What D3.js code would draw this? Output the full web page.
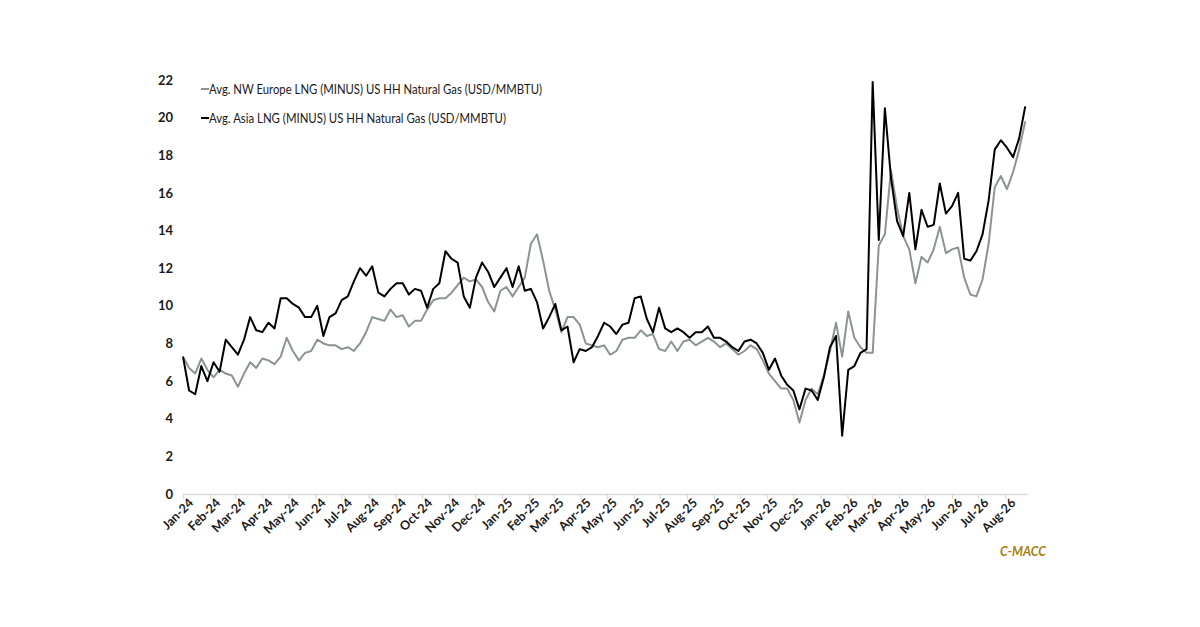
<!DOCTYPE html>
<html>
<head>
<meta charset="utf-8">
<script src="https://cdn.jsdelivr.net/npm/d3@7"></script>
<style>
    body { margin: 0; background: #fff; }
</style>
</head>
<body>
<script>
// weekly readings, first week starts 2024-01-01
var startDate = "2024-01-01";

var europe = [
    7.3, 6.7, 6.4, 7.2, 6.6, 6.2, 6.6, 6.4, 6.3, 5.7,
    6.4, 7.0, 6.7, 7.2, 7.1, 6.9, 7.3, 8.3, 7.6, 7.1,
    7.5, 7.6, 8.2, 8.0, 7.9, 7.9, 7.7, 7.8, 7.6, 8.0,
    8.6, 9.4, 9.3, 9.2, 9.8, 9.4, 9.5, 8.9, 9.2, 9.2,
    9.8, 10.3, 10.4, 10.4, 10.7, 11.1, 11.5, 11.3, 11.4, 11.0,
    10.2, 9.7, 10.8, 11.0, 10.5, 11.0, 11.5, 13.3, 13.8, 12.4,
    10.8, 9.8, 8.6, 9.4, 9.4, 9.0, 8.0, 7.9, 7.8, 7.9,
    7.4, 7.6, 8.2, 8.3, 8.3, 8.7, 8.4, 8.5, 7.7, 7.6,
    8.1, 7.6, 8.1, 8.2, 7.9, 8.1, 8.3, 8.1, 7.8, 8.0,
    7.7, 7.4, 7.6, 7.9, 7.7, 7.1, 6.4, 6.0, 5.6, 5.6,
    5.0, 3.8, 5.0, 5.6, 5.3, 6.3, 7.6, 9.1, 7.3, 9.7,
    8.3, 7.8, 7.5, 7.5, 13.2, 13.8, 17.2, 15.2, 13.7, 13.0,
    11.2, 12.6, 12.3, 13.0, 14.2, 12.8, 13.0, 13.1, 11.5, 10.6,
    10.5, 11.4, 13.3, 16.3, 16.9, 16.2, 17.1, 18.3, 19.8
];

var asia = [
    7.3, 5.5, 5.3, 6.8, 6.0, 7.0, 6.5, 8.2, 7.8, 7.4,
    8.2, 9.4, 8.7, 8.6, 9.1, 8.8, 10.4, 10.4, 10.1, 9.9,
    9.4, 9.4, 10.0, 8.4, 9.4, 9.6, 10.3, 10.5, 11.3, 12.0,
    11.6, 12.1, 10.7, 10.5, 10.9, 11.2, 11.2, 10.6, 10.9, 10.8,
    9.9, 10.9, 11.2, 12.9, 12.5, 12.3, 10.5, 9.9, 11.5, 12.3,
    11.8, 11.0, 11.5, 12.0, 11.0, 12.1, 10.8, 10.9, 10.2, 8.8,
    9.4, 10.1, 8.7, 8.9, 7.0, 7.7, 7.6, 7.8, 8.4, 9.1,
    8.9, 8.5, 9.0, 9.1, 10.4, 10.5, 9.3, 8.6, 9.9, 8.8,
    8.6, 8.8, 8.6, 8.3, 8.6, 8.6, 8.9, 8.3, 8.3, 8.1,
    7.8, 7.6, 8.1, 8.2, 8.0, 7.5, 6.6, 7.2, 6.3, 5.8,
    5.5, 4.5, 5.6, 5.5, 5.0, 6.2, 7.8, 8.4, 3.1, 6.6,
    6.8, 7.5, 7.7, 21.9, 13.5, 20.5, 16.8, 14.5, 13.7, 16.0,
    13.0, 15.1, 14.2, 14.3, 16.5, 14.9, 15.3, 16.0, 12.5, 12.4,
    12.9, 13.8, 15.6, 18.3, 18.8, 18.4, 17.9, 18.9, 20.6
];

var series_names = [
    "Avg. NW Europe LNG (MINUS) US HH Natural Gas (USD/MMBTU)",
    "Avg. Asia LNG (MINUS) US HH Natural Gas (USD/MMBTU)"
];
var series_colors = ["#8a9590", "#000000"];
var y_ticks = [0, 2, 4, 6, 8, 10, 12, 14, 16, 18, 20, 22];
var x_end = "2026-08-26";

var parse = d3.timeParse("%Y-%m-%d");
var start = parse(startDate);

// turn the value lists into {date, value} rows
function to_rows(values) {
    return values.map(function(v, i) {
        return { date: d3.timeDay.offset(start, i * 7), value: v };
    });
}
var all_series = [to_rows(europe), to_rows(asia)];

var width = 1200, height = 627;
var margin = { top: 80, right: 173, bottom: 133, left: 183 };

var svg = d3.select("body").append("svg")
    .attr("width", width)
    .attr("height", height);

var x = d3.scaleTime()
    .domain([start, parse(x_end)])
    .range([margin.left, width - margin.right]);

var y = d3.scaleLinear()
    .domain([0, 22])
    .range([height - margin.bottom, margin.top]);

// X axis: month ticks, rotated labels
var x_axis = svg.append("g")
    .attr("transform", "translate(0," + y(0) + ")")
    .call(d3.axisBottom(x)
        .ticks(d3.timeMonth.every(1))
        .tickFormat(d3.timeFormat("%b-%y"))
        .tickSizeInner(5)
        .tickSizeOuter(0));

x_axis.select(".domain").attr("stroke", "#d9d9d9").attr("stroke-width", 1.5);
x_axis.selectAll(".tick line").attr("stroke", "#d9d9d9").attr("stroke-width", 1.2);
x_axis.selectAll(".tick text")
    .attr("font-family", "Lato, sans-serif")
    .attr("font-weight", "bold")
    .attr("font-size", 12.5)
    .attr("fill", "#1a1a1a")
    .attr("text-anchor", "end")
    .attr("dy", 0)
    .attr("transform", "translate(5,4) rotate(-45)");

// Y axis: labels only
var y_axis = svg.append("g")
    .attr("transform", "translate(" + (margin.left - 10) + ",0)")
    .call(d3.axisLeft(y).tickValues(y_ticks).tickSize(0).tickPadding(0));

y_axis.select(".domain").remove();
y_axis.selectAll(".tick text")
    .attr("font-family", "Lato, sans-serif")
    .attr("font-weight", "bold")
    .attr("font-size", 13)
    .attr("fill", "#1a1a1a");

// lines, Europe first so Asia sits on top
var line = d3.line()
    .x(function(d) { return x(d.date); })
    .y(function(d) { return y(d.value); });

svg.selectAll(".series")
    .data(all_series)
    .enter()
    .append("path")
    .attr("class", "series")
    .attr("d", line)
    .attr("fill", "none")
    .attr("stroke", function(d, i) { return series_colors[i]; })
    .attr("stroke-width", 2)
    .attr("stroke-linejoin", "round");

// legend (Calibri-like width squeezed to fit)
var legend_widths = [333, 297];
var legend = svg.selectAll(".legend")
    .data(series_names)
    .enter()
    .append("g")
    .attr("class", "legend")
    .attr("transform", function(d, i) { return "translate(201," + (89 + i * 29) + ")"; });

legend.append("line")
    .attr("x1", 0).attr("x2", 8)
    .attr("y1", 0).attr("y2", 0)
    .attr("stroke", function(d, i) { return series_colors[i]; })
    .attr("stroke-width", 2);

legend.append("text")
    .attr("x", 8)
    .attr("dy", "0.35em")
    .attr("font-family", "Lato, sans-serif")
    .attr("font-size", 13)
    .attr("fill", "#1a1a1a")
    .attr("textLength", function(d, i) { return legend_widths[i]; })
    .attr("lengthAdjust", "spacingAndGlyphs")
    .text(function(d) { return d; });

// source tag
svg.append("text")
    .attr("x", 1046)
    .attr("y", 556)
    .attr("text-anchor", "end")
    .attr("font-family", "Lato, sans-serif")
    .attr("font-weight", "bold")
    .attr("font-style", "italic")
    .attr("font-size", 12.5)
    .attr("fill", "#a87d0c")
    .text("C-MACC");
</script>
</body>
</html>
